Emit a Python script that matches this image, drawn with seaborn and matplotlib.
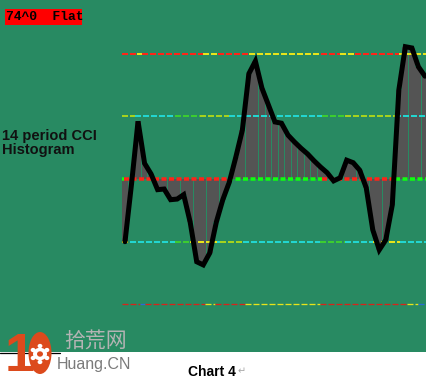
import numpy as np
import pandas as pd
import matplotlib
matplotlib.use("Agg")
import matplotlib.pyplot as plt
import seaborn as sns
from matplotlib.patches import Rectangle, Ellipse, Circle
from matplotlib.lines import Line2D

# ---------------- data ----------------
cci = [-100, -8, 92, 25, 8, -17, -16, -33, -32, -25, -69, -132, -137, -118,
       -69, -33, -5, 35, 78, 168, 188, 145, 118, 91, 89, 70, 59, 49, 40, 29,
       19, 10, -3, 2, 30, 26, 14, -14, -81, -113, -97, -41, 142, 211, 209,
       179, 164]
bar_idx = list(range(len(cci)))
levels = [200, 100, 0, -100, -200]
label_top = "74^0  Flat"
label_side = "14 period CCI\nHistogram"
caption = "Chart 4"

W, H = 426, 382
GREEN = "#288a62"

df = pd.DataFrame({"bar": bar_idx, "cci": cci})

sns.set_theme(style="white")
plt.rcParams["font.family"] = ["Liberation Sans", "DejaVu Sans"]

fig = plt.figure(figsize=(W / 100, H / 100), dpi=100, facecolor="white")
bottom_px = 352
ax = fig.add_axes([0, 1 - bottom_px / H, 1, bottom_px / H])
ax.set_facecolor(GREEN)
for s in ax.spines.values():
    s.set_visible(False)

# pixel mapping: bar i at x = 125 + 6.52 i ; value 0 at y=179, 62.7 px per 100
step = 6.52
x0 = 125


def fix_axes():
    ax.set_xlim(-x0 / step, (W - x0) / step)
    ax.set_ylim(-(bottom_px - 179) / 0.627, 179 / 0.627)
    ax.set_xticks([]); ax.set_yticks([])
    ax.set_xlabel(""); ax.set_ylabel("")


# histogram bars (categorical positions 0..N-1)
sns.barplot(data=df, x="bar", y="cci", color="#545454", saturation=1,
            width=0.9, edgecolor="none", linewidth=0, ax=ax, zorder=2)
for p in ax.patches:
    p.set_facecolor("#545454")
    p.set_alpha(1)
fix_axes()

# level lines (dashed, multi-coloured segments)
Y, C, G, YG = "#e8e41a", "#22d6d0", "#3ccc30", "#a6d21e"
R = "#ff2418"
styles = {
    200: dict(lw=2, on=6, off=2, base=R,
              segs=[(1.8, 2.6, Y), (12, 14.3, Y), (19, 30, Y), (33, 35.3, Y), (42, 47, Y)]),
    100: dict(lw=2, on=6, off=2, base=C,
              segs=[(-0.5, 1.5, YG), (7.7, 11.5, G), (11.5, 16, YG), (30.2, 33.7, G), (33.7, 41.4, YG)]),
    0: dict(lw=3.5, on=5, off=2.5, base=R,
            segs=[(-0.5, -0.1, "#10ff10"), (15.8, 30.2, "#10ff10"), (41.4, 47, "#10ff10")]),
    -100: dict(lw=2, on=6, off=2, base=C,
               segs=[(-0.5, 0.8, Y), (7.7, 10, G), (10, 14.1, Y), (14.6, 18.1, YG), (29.9, 33.7, G), (38, 42.2, Y)]),
    -200: dict(lw=1.3, on=6, off=2, base="#d8241a",
               segs=[(2.3, 3.0, "#2a6ad8"), (12.3, 13.8, Y), (18.4, 29.9, Y), (43.3, 45.0, Y), (45.0, 47, "#2a6ad8")]),
}
xs_start, xs_end = (122 - x0) / step, (W - x0) / step + 0.2
for lev in levels:
    st = styles[lev]
    lw_pt = st["lw"] * 0.72
    dashes = (st["on"] / st["lw"], st["off"] / st["lw"])
    segs = sorted(st["segs"])
    spans = []
    cur = xs_start
    for a, b, col in segs:
        a = max(a, xs_start)
        if a > cur:
            spans.append((cur, a, st["base"]))
        spans.append((a, b, col))
        cur = b
    if cur < xs_end:
        spans.append((cur, xs_end, st["base"]))
    for a, b, col in spans:
        ax.plot([a, b], [lev, lev], color=col, lw=lw_pt, dashes=dashes,
                solid_capstyle="butt", dash_capstyle="butt", zorder=3)

# CCI line
sns.lineplot(data=df, x="bar", y="cci", color="black", linewidth=3.6, ax=ax,
             zorder=4, sort=False)
for ln in ax.lines[-1:]:
    ln.set_solid_joinstyle("miter")
    ln.set_solid_capstyle("round")
fix_axes()

# top-left red label
fig.patches.append(Rectangle((5 / W, 1 - 25 / H), 77 / W, 16 / H,
                             transform=fig.transFigure, facecolor="#ff0000",
                             edgecolor="none", zorder=5))
fig.text(6 / W, 1 - 17.5 / H, label_top, family=["Liberation Mono", "DejaVu Sans Mono"],
         fontweight="bold", fontsize=9.4, color="black", va="center", ha="left", zorder=6)

# side label
fig.text(2 / W, 1 - 143 / H, label_side, fontsize=10.5, fontweight="bold",
         color="#111111", va="center", ha="left", multialignment="left",
         linespacing=1.0)

# bottom area
fig.lines.append(Line2D([0, 60 / W], [1 - 352.5 / H, 1 - 352.5 / H],
                        transform=fig.transFigure, color="black", lw=0.9))
fig.text(188 / W, 1 - 372 / H, caption, fontsize=10, fontweight="bold",
         color="black", va="center", ha="left")
fig.text(238 / W, 1 - 371 / H, "\u21b5", fontsize=7, color="#a8a8a8",
         family=["DejaVu Sans"], va="center", ha="left")

# watermark logo
ORANGE = "#dc4a1c"
fig.text(5 / W, 1 - 371 / H, "1", fontsize=39, fontweight="bold", color=ORANGE,
         va="baseline", ha="left", family=["Liberation Sans"], zorder=5)
fig.patches.append(Ellipse((40 / W, 1 - 353 / H), 23 / W, 42 / H,
                           transform=fig.transFigure, facecolor=ORANGE,
                           edgecolor="none", zorder=5))
gc = (40 / W, 1 - 354 / H)
fig.patches.append(Circle(gc, 7 / W, transform=fig.transFigure,
                          facecolor="white", edgecolor="none", zorder=6))
for ang in np.deg2rad([90, 150, 210, 270, 330, 30]):
    fig.patches.append(Circle((gc[0] + 8 * np.cos(ang) / W, gc[1] + 8 * np.sin(ang) / H),
                              2.4 / W, transform=fig.transFigure,
                              facecolor="white", edgecolor="none", zorder=6))
fig.patches.append(Circle(gc, 3 / W, transform=fig.transFigure,
                          facecolor=ORANGE, edgecolor="none", zorder=7))
fig.text(64 / W, 1 - 341 / H, "拾荒网", fontsize=15, color="#b4b4b4",
         family=["Noto Sans CJK SC", "DejaVu Sans"], va="center", ha="left")
fig.text(57 / W, 1 - 364 / H, "Huang.CN", fontsize=11.5, color="#7a7a7a",
         va="center", ha="left", family=["Liberation Sans"])

fig.savefig("out.png", dpi=100, facecolor="white")
